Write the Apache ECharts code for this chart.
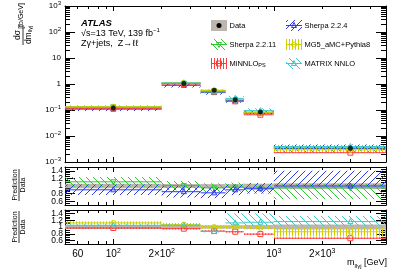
<!DOCTYPE html>
<html><head><meta charset="utf-8">
<script src="https://cdn.jsdelivr.net/npm/echarts@6/dist/echarts.min.js"></script>
<style>html,body{margin:0;padding:0;background:#fff}#c{width:407px;height:276px}</style>
</head><body><div id="c"></div>
<script>
// ---------------- data ----------------
const binLow    = [0, 200, 350, 500, 650, 1000];
const binHigh   = [200, 350, 500, 650, 1000, 5000];
const binCenter = [100, 275, 425, 575, 825, 3000];
const dataXsec   = [0.12, 1.05, 0.57, 0.25, 0.083, 0.0034];
const dataRelErr = [0.06, 0.05, 0.05, 0.05, 0.06, 0.07];

const sherpa2211Ratio = [1.11, 1.01, 0.95, 0.97, 0.92, 0.95];
const sherpa2211Lo    = [0.98, 0.89, 0.83, 0.85, 0.80, 0.65];
const sherpa2211Hi    = [1.24, 1.13, 1.07, 1.09, 1.04, 1.05];
const sherpa224Ratio  = [0.90, 0.85, 0.82, 0.90, 0.94, 1.00];
const sherpa224Lo     = [0.76, 0.70, 0.68, 0.76, 0.80, 1.00];
const sherpa224Hi     = [1.04, 1.00, 0.96, 1.04, 1.08, 1.40];
const minnloRatio     = [0.97, 0.95, 0.88, 0.86, 0.79, 0.67];
const minnloLo        = [0.95, 0.93, 0.86, 0.84, 0.77, 0.65];
const minnloHi        = [0.99, 0.97, 0.90, 0.88, 0.81, 0.69];
const mg5Ratio        = [1.12, 1.07, 1.00, 1.00, 0.98, 0.86];
const mg5Lo           = [1.07, 1.02, 0.95, 0.95, 0.93, 0.72];
const mg5Hi           = [1.17, 1.12, 1.05, 1.05, 1.03, 1.00];
const matrixRatio     = [1.05, 1.05, 0.87, 1.12, 1.14, 1.16];
const matrixLo        = [1.02, 1.02, 0.84, 1.05, 1.05, 1.02];
const matrixHi        = [1.08, 1.08, 0.90, 1.40, 1.40, 1.32];

const xLabelValues = [60, 100, 200, 1000, 2000];
const xLabelTexts  = ['60', '10{sup|2}', '2\u00d710{sup|2}', '10{sup|3}', '2\u00d710{sup|3}'];
const xTickMajor   = [100, 1000];
const xTickMinor   = [60, 70, 80, 90, 200, 300, 400, 500, 600, 700, 800, 900, 2000, 3000, 4000];
const yMainLabelValues = [0.001, 0.01, 0.1, 1, 10, 100, 1000];
const yMainLabelTexts  = ['10{sup|\u22123}', '10{sup|\u22122}', '10{sup|\u22121}', '1', '10', '10{sup|2}', '10{sup|3}'];
const ratioLabelValues = [0.6, 0.8, 1, 1.2, 1.4];
const ratioLabelTexts  = ['0.6', '0.8', '1', '1.2', '1.4'];

// --------------- helpers ---------------
const FONT = '"Liberation Sans", Arial, Helvetica, sans-serif';
const X_MIN = 50, X_MAX = 5000;
const yMainMinor = [];
for (let e = -3; e < 3; e++) for (let k = 2; k <= 9; k++) yMainMinor.push(+(k * Math.pow(10, e)).toPrecision(3));
const ratioMinor = [];
for (let i = 0; i <= 20; i++) ratioMinor.push(+(0.5 + 0.05 * i).toFixed(2));
// ratio labels split over two stacked axes so that neighbours never collide
const ratioLabelsA = ratioLabelValues.filter((v, i) => i % 2 === 0);
const ratioLabelsB = ratioLabelValues.filter((v, i) => i % 2 === 1);

function hatch(color, kind, size) {
  const c = document.createElement('canvas');
  c.width = size; c.height = size;
  const g = c.getContext('2d');
  g.strokeStyle = color; g.lineWidth = 1;
  g.beginPath();
  if (kind === '/') {
    g.moveTo(-1, size + 1); g.lineTo(size + 1, -1);
    g.moveTo(-1, 1); g.lineTo(1, -1);
    g.moveTo(size - 1, size + 1); g.lineTo(size + 1, size - 1);
  } else if (kind === '\\') {
    g.moveTo(-1, -1); g.lineTo(size + 1, size + 1);
    g.moveTo(size - 1, -1); g.lineTo(size + 1, 1);
    g.moveTo(-1, size - 1); g.lineTo(1, size + 1);
  } else {
    g.moveTo(Math.floor(size / 2) + 0.5, 0); g.lineTo(Math.floor(size / 2) + 0.5, size);
  }
  g.stroke();
  return { image: c, repeat: 'repeat' };
}

function markerEl(kind, x, y, color, s) {
  const h = s / 2;
  const st = { fill: 'none', stroke: color, lineWidth: 1 };
  switch (kind) {
    case 'dot': return { type: 'circle', shape: { cx: x, cy: y, r: h }, style: { fill: color } };
    case 'circle': return { type: 'circle', shape: { cx: x, cy: y, r: h }, style: st };
    case 'square': return { type: 'rect', shape: { x: x - h, y: y - h, width: s, height: s }, style: st };
    case 'tri': return { type: 'polygon', shape: { points: [[x, y - h - 0.5], [x + h, y + h - 0.5], [x - h, y + h - 0.5]] }, style: st };
    case 'trid': return { type: 'polygon', shape: { points: [[x, y + h + 0.5], [x + h, y - h + 0.5], [x - h, y - h + 0.5]] }, style: st };
  }
  return null;
}

const GRAY = '#bdb6ae';
const models = [
  { name: 'Sherpa 2.2.11', color: '#33c633', hatch: hatch('#33c633', '\\', 7), marker: 'trid', ratio: sherpa2211Ratio, lo: sherpa2211Lo, hi: sherpa2211Hi, panel: 1 },
  { name: 'Sherpa 2.2.4', color: '#2b3cf2', hatch: hatch('#2b3cf2', '/', 7), marker: 'tri', ratio: sherpa224Ratio, lo: sherpa224Lo, hi: sherpa224Hi, panel: 1 },
  { name: 'MiNNLO_PS', color: '#ff3b3b', hatch: hatch('#ff3b3b', '|', 3), marker: 'square', ratio: minnloRatio, lo: minnloLo, hi: minnloHi, panel: 2 },
  { name: 'MG5_aMC+Pythia8', color: '#d0d000', hatch: hatch('#d0d000', '|', 3), marker: 'circle', ratio: mg5Ratio, lo: mg5Lo, hi: mg5Hi, panel: 2 },
  { name: 'MATRIX NNLO', color: '#3ccaca', hatch: hatch('#3ccaca', '\\', 7), marker: 'tri', ratio: matrixRatio, lo: matrixLo, hi: matrixHi, panel: 2 }
];

function bandSeries(name, grid, color, fill, marker, msize, rows) {
  return {
    type: 'custom', name, xAxisIndex: grid * 4, yAxisIndex: grid * 5, silent: true,
    encode: { x: [0, 1, 5], y: [2, 3, 4] },
    data: rows,
    renderItem(params, api) {
      const xl = Math.max(api.value(0), X_MIN);
      const a = api.coord([xl, api.value(3)]);
      const b = api.coord([api.value(1), api.value(2)]);
      const cl = api.coord([xl, api.value(4)]);
      const cr = api.coord([api.value(1), api.value(4)]);
      const c = api.coord([api.value(5), api.value(4)]);
      const ch = [{ type: 'rect', shape: { x: a[0], y: a[1], width: b[0] - a[0], height: b[1] - a[1] }, style: { fill: fill } }];
      if (color) ch.push({ type: 'line', shape: { x1: cl[0], y1: cl[1], x2: cr[0], y2: cr[1] }, style: { stroke: color, lineWidth: 1 } });
      if (marker) ch.push(markerEl(marker, c[0], c[1], color, msize));
      return { type: 'group', children: ch };
    }
  };
}

function rowsFor(m, scaleData) {
  return binLow.map((l, i) => {
    const s = scaleData ? dataXsec[i] : 1;
    return [l, binHigh[i], m.lo[i] * s, m.hi[i] * s, m.ratio[i] * s, binCenter[i]];
  });
}

const series = [];
// main panel
series.push(bandSeries('Data', 0, null, GRAY, null, 0,
  binLow.map((l, i) => [l, binHigh[i], dataXsec[i] * (1 - dataRelErr[i]), dataXsec[i] * (1 + dataRelErr[i]), dataXsec[i], binCenter[i]])));
[0, 1, 2, 3, 4].forEach(k => { const m = models[k]; series.push(bandSeries(m.name, 0, m.color, m.hatch, m.marker, 5, rowsFor(m, true))); });
series.push({ type: 'scatter', name: 'Data', xAxisIndex: 0, yAxisIndex: 0, z: 5, silent: true,
  symbol: 'circle', symbolSize: 5, itemStyle: { color: '#000' },
  data: binCenter.map((x, i) => [x, dataXsec[i]]) });
// ratio panels
[1, 2].forEach(g => {
  series.push(bandSeries('Data', g, null, GRAY, null, 0,
    binLow.map((l, i) => [l, binHigh[i], 1 - dataRelErr[i], 1 + dataRelErr[i], 1, binCenter[i]])));
  models.filter(m => m.panel === g).forEach(m => series.push(bandSeries(m.name, g, m.color, m.hatch, m.marker, 5, rowsFor(m, false))));
});

// --------------- axes ---------------
const xAxes = [], yAxes = [];
const supRich = (fs) => ({ sup: { fontSize: fs, lineHeight: fs, verticalAlign: 'top', fontFamily: FONT, color: '#000' } });
function fmt(values, texts) {
  return v => { for (let i = 0; i < values.length; i++) if (Math.abs(v - values[i]) <= 1e-6 * Math.abs(values[i])) return texts[i]; return ''; };
}
for (let g = 0; g < 3; g++) {
  const mk = (pos, ticks, len, line, labels) => ({
    type: 'log', logBase: 10, gridIndex: g, position: pos, min: X_MIN, max: X_MAX,
    axisLine: { show: line, lineStyle: { color: '#000', width: 1 } },
    axisTick: { show: true, inside: true, length: len, customValues: ticks, lineStyle: { color: '#000', width: 1 } },
    axisLabel: labels ? { show: true, showMinLabel: true, showMaxLabel: true, hideOverlap: false, customValues: xLabelValues, formatter: fmt(xLabelValues, xLabelTexts), fontSize: 10, lineHeight: 13, margin: 4, color: '#000', fontFamily: FONT, rich: supRich(7) } : { show: false },
    splitLine: { show: false }, minorTick: { show: false }
  });
  xAxes.push(mk('bottom', xTickMajor, 5, true, g === 2));
  xAxes.push(mk('bottom', xTickMinor, 3, false, false));
  xAxes.push(mk('top', xTickMajor, 5, true, false));
  xAxes.push(mk('top', xTickMinor, 3, false, false));
  const isMain = g === 0;
  const mky = (pos, ticks, len, line, labelVals) => ({
    type: isMain ? 'log' : 'value', logBase: 10, gridIndex: g, position: pos,
    min: isMain ? 0.001 : 0.5, max: isMain ? 1000 : 1.5,
    axisLine: { show: line, lineStyle: { color: '#000', width: 1 } },
    axisTick: { show: !!ticks, inside: true, length: len, customValues: ticks || [], lineStyle: { color: '#000', width: 1 } },
    axisLabel: labelVals ? {
      show: true, showMinLabel: true, showMaxLabel: true, hideOverlap: false,
      customValues: labelVals,
      formatter: isMain ? fmt(yMainLabelValues, yMainLabelTexts) : fmt(ratioLabelValues, ratioLabelTexts),
      fontSize: isMain ? 8 : 8.5, lineHeight: isMain ? 11 : 9, margin: isMain ? 4 : 2, color: '#000', fontFamily: FONT, rich: supRich(6)
    } : { show: false },
    splitLine: { show: false }, minorTick: { show: false }
  });
  yAxes.push(mky('left', isMain ? yMainLabelValues : ratioLabelValues, 10, true, isMain ? yMainLabelValues : ratioLabelsA));
  yAxes.push(mky('left', isMain ? yMainMinor : ratioMinor, 5, false, null));
  yAxes.push(mky('right', isMain ? yMainLabelValues : ratioLabelValues, 10, true, null));
  yAxes.push(mky('right', isMain ? yMainMinor : ratioMinor, 5, false, null));
  yAxes.push(mky('left', null, 0, false, isMain ? null : ratioLabelsB));
}

// --------------- texts & legend ---------------
const graphic = [];
const T = (text, x, y, extra) => ({ type: 'text', silent: true, style: Object.assign({ text, x, y, fontFamily: FONT, fontSize: 8, fill: '#000', align: 'left', verticalAlign: 'middle' }, extra || {}) });
graphic.push(T('ATLAS', 81, 23, { fontWeight: 'bold', fontStyle: 'italic', fontSize: 9.5 }));
graphic.push(T('\u221as=13 TeV, 139 fb{sup|\u22121}', 81, 33.5, { fontSize: 9, lineHeight: 12, rich: { sup: { fontSize: 6, lineHeight: 6, verticalAlign: 'top', fontFamily: FONT } } }));
graphic.push(T('Z\u03b3+jets,  Z\u2192\u2113\u2113', 81, 44, { fontSize: 9 }));

// main y title (rotated)
graphic.push({ type: 'group', x: 23, y: 35, rotation: Math.PI / 2, silent: true, children: [
  { type: 'text', style: { text: 'd\u03c3', x: 0, y: -5, align: 'center', verticalAlign: 'middle', fontSize: 8.5, fontFamily: FONT, fill: '#000' } },
  { type: 'line', shape: { x1: -10, y1: 0, x2: 10, y2: 0 }, style: { stroke: '#000', lineWidth: 0.8 } },
  { type: 'text', style: { text: 'dm{sub|ll\u03b3j}', x: 0, y: 5.5, align: 'center', verticalAlign: 'middle', fontSize: 8.5, lineHeight: 10, fontFamily: FONT, fill: '#000', rich: { sub: { fontSize: 5.5, lineHeight: 5.5, verticalAlign: 'bottom', fontFamily: FONT } } } },
  { type: 'text', style: { text: '[fb/GeV]', x: 19, y: -1.5, align: 'center', verticalAlign: 'middle', fontSize: 7, fontFamily: FONT, fill: '#000' } }
] });
// ratio y titles
[185, 227].forEach(cy => graphic.push({ type: 'group', x: 19, y: cy, rotation: Math.PI / 2, silent: true, children: [
  { type: 'text', style: { text: 'Prediction', x: 0, y: -3.8, align: 'center', verticalAlign: 'middle', fontSize: 7, fontFamily: FONT, fill: '#000' } },
  { type: 'line', shape: { x1: -16, y1: 0, x2: 16, y2: 0 }, style: { stroke: '#000', lineWidth: 0.8 } },
  { type: 'text', style: { text: 'Data', x: 0, y: 4, align: 'center', verticalAlign: 'middle', fontSize: 7, fontFamily: FONT, fill: '#000' } }
] }));
// x title
graphic.push(T('m{sub|ll\u03b3j} [GeV]', 387, 263, { align: 'right', fontSize: 9, lineHeight: 12, rich: { sub: { fontSize: 6, lineHeight: 6, verticalAlign: 'bottom', fontFamily: FONT } } }));

// legend
const legendCols = [211, 286], legendRows = [25.5, 44.5, 63.5];
const legendEntries = [
  { label: 'Data', col: 0, row: 0, model: -1 },
  { label: 'Sherpa 2.2.11', col: 0, row: 1, model: 0 },
  { label: 'MiNNLO{sub|PS}', col: 0, row: 2, model: 2 },
  { label: 'Sherpa 2.2.4', col: 1, row: 0, model: 1 },
  { label: 'MG5_aMC+Pythia8', col: 1, row: 1, model: 3 },
  { label: 'MATRIX NNLO', col: 1, row: 2, model: 4 }
];
legendEntries.forEach(e => {
  const x0 = legendCols[e.col], yc = legendRows[e.row];
  if (e.model < 0) {
    graphic.push({ type: 'rect', silent: true, shape: { x: x0, y: yc - 5.5, width: 16, height: 11 }, style: { fill: GRAY } });
    graphic.push(Object.assign(markerEl('dot', x0 + 8, yc, '#000', 5), { silent: true }));
  } else {
    const m = models[e.model];
    graphic.push({ type: 'rect', silent: true, shape: { x: x0, y: yc - 5.5, width: 16, height: 11 }, style: { fill: m.hatch } });
    graphic.push({ type: 'line', silent: true, shape: { x1: x0, y1: yc, x2: x0 + 16, y2: yc }, style: { stroke: m.color, lineWidth: 1 } });
    graphic.push(Object.assign(markerEl(m.marker, x0 + 8, yc, m.color, 5), { silent: true }));
  }
  graphic.push(T(e.label, x0 + 18.5, yc, { fontSize: 7.5, lineHeight: 10, rich: { sub: { fontSize: 5.5, lineHeight: 5.5, verticalAlign: 'bottom', fontFamily: FONT } } }));
});

const chart = echarts.init(document.getElementById('c'), null, { renderer: 'canvas', width: 407, height: 276 });
chart.setOption({
  animation: false,
  backgroundColor: '#fff',
  textStyle: { fontFamily: FONT },
  grid: [
    { left: 65, width: 321, top: 6, height: 156 },
    { left: 65, width: 321, top: 167, height: 38 },
    { left: 65, width: 321, top: 210, height: 34 }
  ],
  xAxis: xAxes,
  yAxis: yAxes,
  series,
  graphic
});
</script></body></html>
